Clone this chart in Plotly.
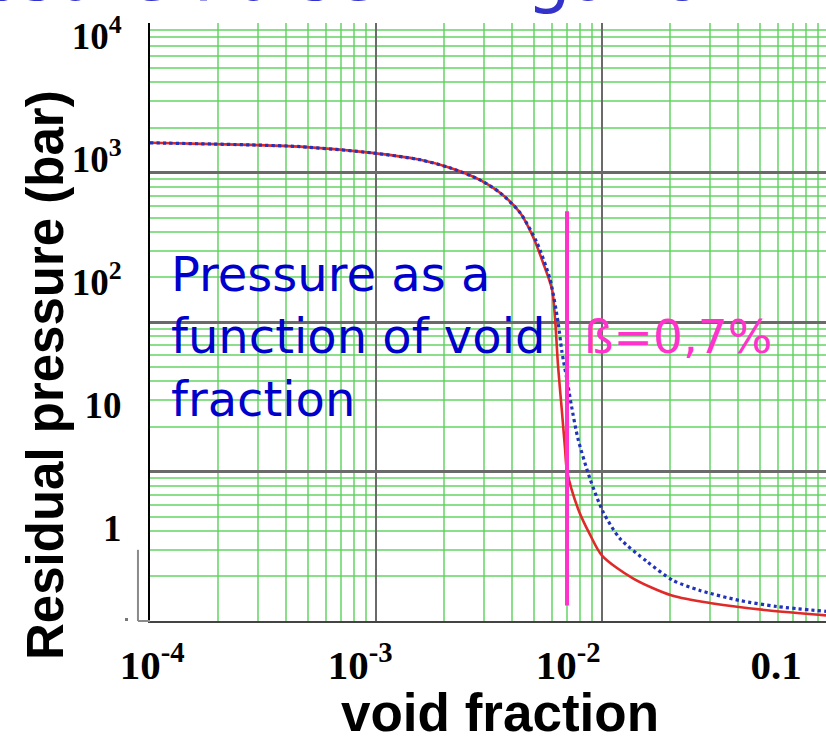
import plotly.graph_objects as go

# Residual pressure vs. void fraction (two model curves)
void_red = [1.0e-4, 2.77e-4, 4.61e-4, 9.6e-4, 1.57e-3, 2.12e-3, 2.88e-3, 3.54e-3,
            4.34e-3, 4.95e-3, 5.48e-3, 6.01e-3, 6.2e-3, 6.39e-3, 6.65e-3, 6.86e-3,
            7.0e-3, 7.83e-3, 8.85e-3, 1.0e-2, 1.37e-2, 2.04e-2, 3.1e-2,
            5.37e-2, 9.8e-2]
pres_red = [1580, 1530, 1490, 1353, 1216, 1075, 893, 732,
            538, 372, 250, 165, 104, 50.7, 25, 14.2,
            10.1, 5.64, 3.78, 2.74, 1.93, 1.48, 1.31,
            1.18, 1.09]

void_blue = [1.0e-4, 2.77e-4, 4.61e-4, 9.6e-4, 1.57e-3, 2.12e-3, 2.88e-3, 3.54e-3,
             4.34e-3, 5.15e-3, 5.89e-3, 6.39e-3, 6.65e-3, 7.08e-3, 7.3e-3, 7.83e-3,
             8.85e-3, 1.01e-2, 1.2e-2, 1.58e-2, 2.06e-2, 2.71e-2, 4.08e-2, 5.94e-2, 9.8e-2]
pres_blue = [1580, 1530, 1490, 1353, 1216, 1075, 893, 732,
             538, 340, 193, 99.6, 62.8, 37.3, 28.3, 16.5,
             8.93, 5.38, 3.56, 2.5, 1.87, 1.6, 1.37, 1.25, 1.16]

# Marker line at beta = 0.7 %
beta_void = [0.007, 0.007]
beta_pres = [550, 1.27]

# Axis tick labels
x_tickvals = [1e-4, 1e-3, 1e-2, 1e-1]
x_ticktext = ["<b>10<sup>-4</sup></b>", "<b>10<sup>-3</sup></b>",
              "<b>10<sup>-2</sup></b>", "<b>0.1</b>"]
y_tickvals = [1, 10, 100, 1000, 10000]
y_ticktext = ["<b>1</b>", "<b>10</b>", "<b>10<sup>2</sup></b>",
              "<b>10<sup>3</sup></b>", "<b>10<sup>4</sup></b>"]

GRID_GREEN = "rgba(90,210,90,0.7)"
DECADE_GREY = "#6a6a6a"
SANS_BOLD = "Liberation Sans, Arial"
SERIF = "Liberation Serif, Times New Roman"

fig = go.Figure()

fig.add_trace(go.Scatter(
    x=void_red, y=pres_red, mode="lines",
    line=dict(color="#e02a2a", width=2.6, shape="spline", smoothing=0.8),
    showlegend=False))
fig.add_trace(go.Scatter(
    x=void_blue, y=pres_blue, mode="lines",
    line=dict(color="#2233bb", width=3.2, dash="dot", shape="spline", smoothing=0.7),
    showlegend=False))
fig.add_trace(go.Scatter(
    x=beta_void, y=beta_pres, mode="lines",
    line=dict(color="#ff33cc", width=4), showlegend=False))
# binds the label axes
fig.add_trace(go.Scatter(x=[], y=[], xaxis="x2", yaxis="y2", showlegend=False))

fig.update_layout(
    width=826, height=741,
    margin=dict(l=150, r=0, t=23, b=120),
    paper_bgcolor="white", plot_bgcolor="white",
    xaxis=dict(
        type="log", range=[-4, -1.009], dtick=1,
        showticklabels=False, ticks="",
        showgrid=True, gridcolor=DECADE_GREY, gridwidth=2,
        minor=dict(dtick="D1", showgrid=True, gridcolor=GRID_GREEN, gridwidth=1.5, ticks=""),
        showline=True, linecolor="#444444", linewidth=2,
        zeroline=False,
    ),
    yaxis=dict(
        type="log", range=[0, 4], dtick=1,
        showticklabels=False, ticks="",
        showgrid=True, gridcolor=DECADE_GREY, gridwidth=2.5,
        minor=dict(dtick="D1", showgrid=True, gridcolor=GRID_GREEN, gridwidth=1.5, ticks=""),
        showline=True, linecolor="#000000", linewidth=2,
        zeroline=False,
    ),
    xaxis2=dict(
        type="log", range=[-4.01, -0.76], overlaying="x", anchor="y2", side="bottom",
        tickvals=x_tickvals, ticktext=x_ticktext,
        ticks="outside", ticklen=8, tickcolor="rgba(0,0,0,0)",
        tickfont=dict(family=SERIF, size=41, color="black"),
        showgrid=False, showline=False, zeroline=False,
    ),
    yaxis2=dict(
        type="log", range=[-0.759, 4.105], overlaying="y", anchor="x2", side="left",
        tickvals=y_tickvals, ticktext=y_ticktext,
        ticks="outside", ticklen=20, tickcolor="rgba(0,0,0,0)",
        tickfont=dict(family=SERIF, size=37, color="black"),
        showgrid=False, showline=False, zeroline=False,
    ),
    annotations=[
        # axis titles
        dict(text="<b>Residual pressure (bar)</b>", textangle=-90,
             xref="paper", yref="paper", x=(45 - 150) / 676, y=(621 - 375) / 598,
             xanchor="center", yanchor="middle", showarrow=False,
             font=dict(family=SANS_BOLD, size=51, color="black")),
        dict(text="<b>void fraction</b>",
             xref="paper", yref="paper", x=(500 - 150) / 676, y=(621 - 712) / 598,
             xanchor="center", yanchor="middle", showarrow=False,
             font=dict(family=SANS_BOLD, size=53, color="black")),
        # in-plot notes
        dict(text="Pressure as a<br>function of void<br>fraction",
             xref="paper", yref="paper", x=0.028, y=(621 - 244) / 598,
             xanchor="left", yanchor="top", align="left", showarrow=False,
             font=dict(family="DejaVu Sans", size=48, color="#0000cc")),
        dict(text="ß=0,7%",
             xref="paper", yref="paper", x=(582 - 150) / 676, y=(621 - 307) / 598,
             xanchor="left", yanchor="top", align="left", showarrow=False,
             font=dict(family="DejaVu Sans", size=47, color="#ff33cc")),
        # slide heading running off the top edge
        dict(text="Pressure Pulse Mitigation in Pipes",
             xref="paper", yref="paper", x=(-130 - 150) / 676, y=1.007,
             xanchor="left", yanchor="bottom", showarrow=False,
             font=dict(family="DejaVu Sans", size=70, color="#3333cc")),
    ],
    shapes=[
        dict(type="line", xref="paper", yref="paper",
             x0=-0.0178, x1=-0.0178, y0=0, y1=0.119,
             line=dict(color="#8a8a8a", width=2)),
        dict(type="line", xref="paper", yref="paper",
             x0=-0.0178, x1=0, y0=0, y1=0,
             line=dict(color="#8a8a8a", width=2)),
        dict(type="rect", xref="paper", yref="paper",
             x0=-0.0370, x1=-0.0325, y0=0.0, y1=0.005,
             line=dict(width=0), fillcolor="#777777"),
    ],
)

fig.write_html("out.html")
